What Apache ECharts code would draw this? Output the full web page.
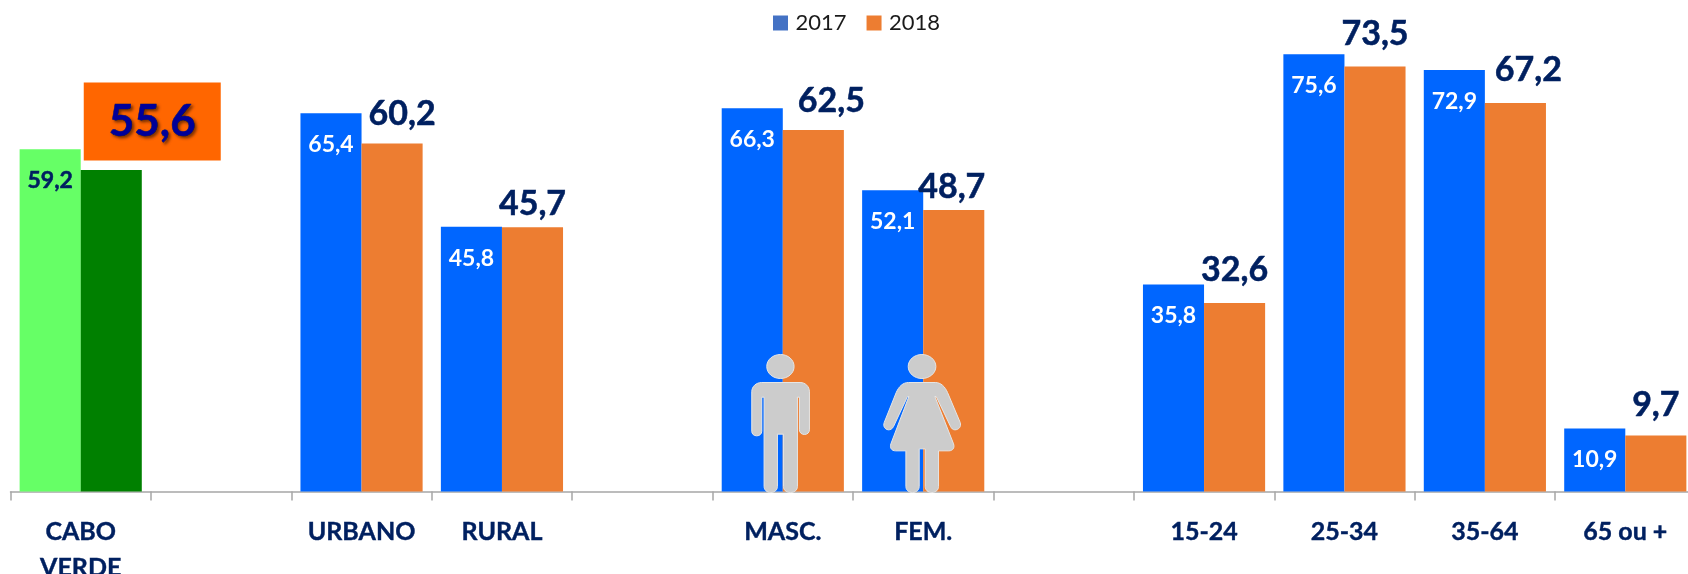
<!DOCTYPE html>
<html><head><meta charset="utf-8">
<style>html,body{margin:0;padding:0;background:#fff;overflow:hidden}#c{width:1688px;height:574px}</style>
<script src="https://cdn.jsdelivr.net/npm/echarts@6/dist/echarts.min.js"></script>
</head><body><div id="c"></div>
<script>
const categories = ['CABO\nVERDE','','URBANO','RURAL','','MASC.','FEM.','','15-24','25-34','35-64','65 ou +'];
const values2017 = [59.2,null,65.4,45.8,null,66.3,52.1,null,35.8,75.6,72.9,10.9];
const values2018 = [55.6,null,60.2,45.7,null,62.5,48.7,null,32.6,73.5,67.2,9.7];
const seriesNames = ['2017','2018'];
// label nudges for the 2018 values (px), styling only
const nudge2018 = [[0,0],null,[10,-6.5],[0,0],null,[18,-6.5],[-2,0],null,[0,-9.5],[0,-9.5],[13,-9.5],[0,-7]];

const fmt = v => v.toFixed(1).replace('.', ',');
const FONT = 'Lato';
const chart = echarts.init(document.getElementById('c'), null, {renderer:'canvas'});

const d2017 = values2017.map((v,i)=> i===0 ? {value:v,itemStyle:{color:'#66FF66'},label:{color:'#002060',textBorderColor:'#002060',textBorderWidth:0.5}} : v);
const d2018 = values2018.map((v,i)=>{
  if (v===null) return v;
  if (i===0) return {value:v,itemStyle:{color:'#008000'},
    label:{offset:[41,-3.5],formatter:p=>'{b|'+fmt(p.value)+'}',
      rich:{b:{fontFamily:FONT,fontWeight:'bold',fontSize:44,color:'#000099',width:137,height:78,lineHeight:78,align:'center',
        backgroundColor:'#FF6600',textShadowColor:'rgba(0,0,0,0.5)',textShadowBlur:3,textShadowOffsetX:2,textShadowOffsetY:2}}}};
  return {value:v,label:{offset:nudge2018[i]}};
});

const man = 'M181 44C204 44 222 60 222 80C222 100 204 116 181 116C158 116 140 100 140 80C140 60 158 44 181 44Z'+
 'M125 128L240 128C256 128 268 140 268 156L268 270C268 278 262 284 253 284C244 284 238 278 238 270L238 172L232 172L232 440C232 450 224 458 211 458C198 458 190 450 190 440L190 283L172 283L172 440C172 450 164 458 152 458C140 458 132 450 132 440L132 172L125 172L125 274C125 282 119 288 110 288C101 288 95 282 95 274L95 156C95 140 108 128 125 128Z';
const woman = 'M605 44C628 44 647 60 647 80C647 100 628 116 605 116C582 116 564 100 564 80C564 60 582 44 605 44Z'+
 'M565 128L645 128C662 128 674 140 682 158L720 248C724 260 716 270 704 270C698 270 694 266 691 260L648 170L644 170L700 312C704 324 698 333 686 333L655 333L655 440C655 450 647 458 635 458C623 458 615 450 615 440L615 327L597 327L597 440C597 450 589 458 577 458C565 458 557 450 557 440L557 333L526 333C514 333 508 324 512 312L566 170L562 170L520 260C516 268 510 270 504 270C494 268 488 260 492 248L528 158C536 140 548 128 565 128Z';
const icons = [{cat:5,path:man,dx:-62.7},{cat:6,path:woman,dx:-203}];

chart.setOption({
  animation:false,
  backgroundColor:'#fff',
  textStyle:{fontFamily:FONT},
  legend:{
    data:[{name:'2017',itemStyle:{color:'#4472C4'}},{name:'2018',itemStyle:{color:'#ED7D31'}}],
    top:7,left:768,itemWidth:15,itemHeight:15,itemGap:20,itemStyle:{borderRadius:0},
    icon:'rect',
    textStyle:{fontFamily:FONT,fontSize:22,color:'#1a1a1a',padding:[0,0,0,2.5]}
  },
  grid:{left:10.5,top:0,width:1685,height:491.5,containLabel:false,outerBoundsMode:'none'},
  xAxis:{type:'category',data:categories,
    axisLine:{lineStyle:{color:'#A6A6A6',width:1.5}},
    axisTick:{show:true,length:9,alignWithLabel:false,lineStyle:{color:'#A6A6A6',width:1.5}},
    axisLabel:{interval:0,margin:22,fontFamily:FONT,fontWeight:'bold',fontSize:25,color:'#002060',lineHeight:36,verticalAlign:'top',textBorderColor:'#002060',textBorderWidth:0.4}
  },
  yAxis:{type:'value',min:0,max:85,show:false,splitLine:{show:false}},
  series:[
    {name:seriesNames[0],type:'bar',data:d2017,barGap:0,barCategoryGap:'13%',
     itemStyle:{color:'#0066FF'},
     label:{show:true,position:'insideTop',distance:20,formatter:p=>fmt(p.value),fontFamily:FONT,fontWeight:'bold',fontSize:23,color:'#fff'}},
    {name:seriesNames[1],type:'bar',data:d2018,
     itemStyle:{color:'#ED7D31'},
     label:{show:true,position:'top',distance:6,formatter:p=>fmt(p.value),fontFamily:FONT,fontWeight:'bold',fontSize:34,color:'#002060',textBorderColor:'#002060',textBorderWidth:0.5}},
    {name:'icons',type:'custom',data:icons.map(o=>[o.cat,0]),z:10,silent:true,tooltip:{show:false},
     renderItem:(params,api)=>{
       const c=api.coord([api.value(0),0]); const o=icons[params.dataIndex];
       return {type:'path',x:c[0]+o.dx,y:c[1]-455/3,scaleX:1/3,scaleY:1/3,
         shape:{pathData:o.path},style:{fill:'#CCCCCC',stroke:'#E6E6E6',lineWidth:3}};
     }}
  ]
});
</script></body></html>
